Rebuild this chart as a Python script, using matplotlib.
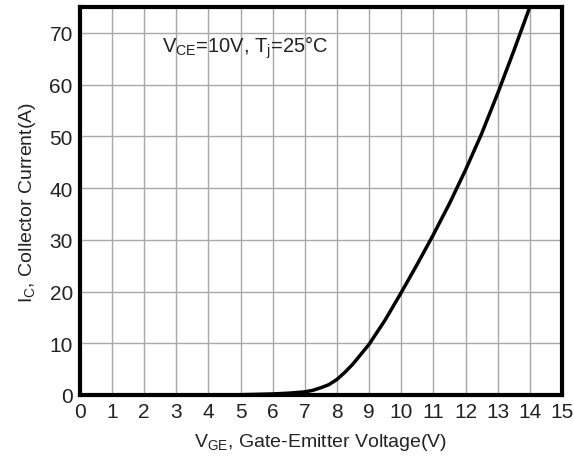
import matplotlib.pyplot as plt

plt.rcParams['font.family'] = ['Liberation Sans', 'DejaVu Sans']
plt.rcParams['mathtext.fontset'] = 'custom'
plt.rcParams['mathtext.rm'] = 'Liberation Sans'

# transfer characteristic
vge = [0, 4, 5, 6, 6.5, 7, 7.25, 7.5, 7.75, 8, 8.25, 8.5, 9, 9.5, 10, 10.5, 11, 11.5, 12, 12.5, 13, 13.5, 14]
ic = [0, 0, 0.05, 0.2, 0.35, 0.6, 0.9, 1.4, 2.0, 3.0, 4.4, 6.0, 9.8, 14.5, 19.8, 25.3, 31, 37, 43.5, 50.5, 58.3, 66.5, 75]

xticks = list(range(0, 16))
yticks = list(range(0, 80, 10))

fig = plt.figure(figsize=(5.74, 4.64), dpi=100)
ax = fig.add_axes([0.139, 0.1466, 0.84, 0.836])

ax.plot(vge, ic, color='black', lw=2.5, solid_capstyle='round', solid_joinstyle='round')

ax.set_xlim(0, 15)
ax.set_ylim(0, 75)
ax.set_xticks(xticks)
ax.set_yticks(yticks)
ax.grid(True, color='#a8a8a8', lw=1)
ax.set_axisbelow(True)
ax.tick_params(length=0, labelsize=15, pad=5, colors='#222222')
for s in ax.spines.values():
    s.set_linewidth(3)
    s.set_color('black')

ax.set_xlabel(r'$\mathregular{V_{GE}}$, Gate-Emitter Voltage(V)', fontsize=14, color='#222222', labelpad=7)
ax.set_ylabel(r'$\mathregular{I_C}$, Collector Current(A)', fontsize=14, color='#222222', labelpad=8)

ax.text(2.55, 67.3, r'$\mathregular{V_{CE}}$=10V, $\mathregular{T_j}$=25°C', fontsize=14.5, color='#222222', va='center')

fig.savefig('out.png', dpi=100)
